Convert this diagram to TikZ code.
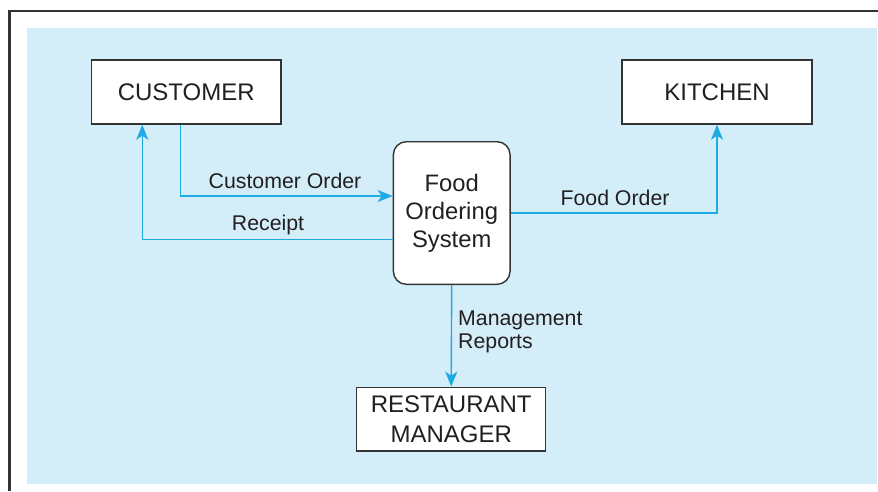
\documentclass[tikz,border=0pt]{standalone}
\usepackage{fontspec}
\setmainfont{Liberation Sans}
\usetikzlibrary{arrows.meta}
\definecolor{bgblue}{HTML}{D3EDF9}
\definecolor{flowc}{HTML}{1EAAE2}
\definecolor{ink}{HTML}{231F20}
\definecolor{edge}{HTML}{333333}
\tikzset{
  entity/.style={draw=edge, line width=1.4pt, fill=white, text=ink, inner sep=0pt,
    align=center, font=\fontsize{24}{30}\selectfont},
  proc/.style={entity, rounded corners=13pt, font=\fontsize{23.8}{28}\selectfont},
  flow/.style={draw=flowc, line width=1.4pt, -{Stealth[length=15pt,width=12pt,inset=4pt]}},
  lbl/.style={text=ink, inner sep=0pt, font=\fontsize{21.3}{23}\selectfont}
}
\begin{document}
\begin{tikzpicture}[x=1pt,y=-1pt]
\useasboundingbox (0,0) rectangle (878,491);
\fill[bgblue] (27,28) rectangle (877,484);
\draw[edge, line width=2.6pt] (9.5,491) -- (9.5,11) -- (878,11);
\node[entity, minimum width=189.5pt, minimum height=64pt] (cust) at (186.25,92) {CUSTOMER};
\node[entity, minimum width=190pt, minimum height=64pt] (kitch) at (717,92) {KITCHEN};
\node[proc, minimum width=116.7pt, minimum height=142.6pt] (food) at (451.7,213) {Food\\Ordering\\System};
\node[entity, minimum width=189pt, minimum height=63.7pt] (mgr) at (451.2,419.2) {RESTAURANT\\MANAGER};
\draw[flow] ([xshift=-5.5pt]cust.south) |- ([yshift=17pt]food.west);
\draw[flow] ([yshift=-26.3pt]food.west) -| ([xshift=-44pt]cust.south);
\draw[flow] (food.east) -| (kitch.south);
\draw[flow] (food.south) -- (mgr.north);
\node[lbl] (lco) at (285,181) {Customer Order};
\node[lbl] (lrc) at (268,225) {Receipt};
\node[lbl] (lfo) at (615,198) {Food Order};
\node[lbl, anchor=west, align=left] (lmr) at (458,331.5) {Management\\Reports};
\end{tikzpicture}
\end{document}
